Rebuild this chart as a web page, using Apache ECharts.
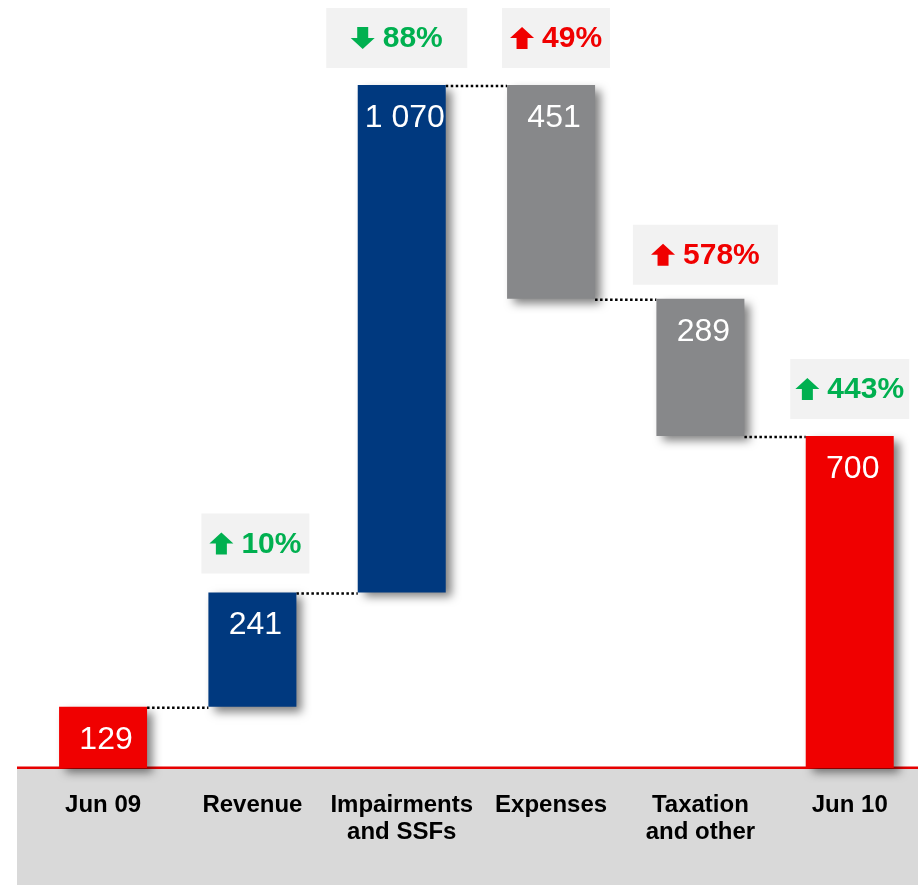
<!DOCTYPE html>
<html>
<head>
<meta charset="utf-8">
<script src="https://cdn.jsdelivr.net/npm/echarts@6/dist/echarts.min.js"></script>
<style>
  html, body { margin: 0; padding: 0; background: #ffffff; }
  #chart { width: 918px; height: 885px; }
</style>
</head>
<body>
<div id="chart"></div>
<script>
// Profit bridge, Jun 09 to Jun 10
const categories = ['Jun 09', 'Revenue', 'Impairments\nand SSFs', 'Expenses', 'Taxation\nand other', 'Jun 10'];
const amounts = [129, 241, 1070, 451, 289, 700];
const kinds = ['total', 'increase', 'increase', 'decrease', 'decrease', 'total'];
const changeLabels = ['', '10%', '88%', '49%', '578%', '443%'];
const changeArrows = ['', 'up', 'down', 'up', 'up', 'up'];
const changeTones = ['', 'good', 'good', 'bad', 'bad', 'good'];

// Presentation settings
const FONT = '"Liberation Sans", Arial, Helvetica, sans-serif';
const KIND_COLORS = { total: '#f00000', increase: '#00397f', decrease: '#87888a' };
const TONE_COLORS = { good: '#00b050', bad: '#f00000' };
const BAR_WIDTH = 88;
const BADGE_WIDTHS = [0, 108, 141, 108, 145, 119];
const BADGE_NUDGE_X = [0, 3, -5, 5, 5, 0];
const BADGE_NUDGE_Y = [0, -2, 0, 0, 3, 0];
const BADGE_HEIGHT = 60;
const BADGE_GAP = 17;

// Running totals: floating base and top of each bar
const bases = [];
const tops = [];
const levels = [];
let running = 0;
amounts.forEach((v, i) => {
  if (kinds[i] === 'total') { bases.push(0); tops.push(v); running = v; }
  else if (kinds[i] === 'increase') { bases.push(running); running += v; tops.push(running); }
  else { tops.push(running); running -= v; bases.push(running); }
  levels.push(running);
});

const fmt = v => String(v).replace(/\B(?=(\d{3})+(?!\d))/g, ' ');

const measureCtx = document.createElement('canvas').getContext('2d');
function textWidth(text, font) { measureCtx.font = font; return measureCtx.measureText(text).width; }

function arrowPoints(cx, cy, dir) {
  const w = 24, h = 22, shaft = 11, head = 11;
  const s = dir === 'down' ? -1 : 1;
  const top = cy - s * h / 2, mid = cy - s * (h / 2 - head), bot = cy + s * h / 2;
  return [
    [cx, top], [cx + w / 2, mid], [cx + shaft / 2, mid], [cx + shaft / 2, bot],
    [cx - shaft / 2, bot], [cx - shaft / 2, mid], [cx - w / 2, mid]
  ];
}

const chart = echarts.init(document.getElementById('chart'), null, { renderer: 'canvas' });

const option = {
  backgroundColor: '#ffffff',
  animation: false,
  graphic: [
    { type: 'rect', z: 0, shape: { x: 17, y: 768, width: 901, height: 117 }, style: { fill: '#d9d9d9' } },
    { type: 'rect', z: 0, shape: { x: 17, y: 766.5, width: 901, height: 2.5 }, style: { fill: '#e60000' } }
  ],
  grid: { left: 28.4, width: 896, top: 0, bottom: 117, containLabel: false, outerBoundsMode: 'none' },
  xAxis: {
    type: 'category',
    data: categories,
    axisLine: { show: false },
    axisTick: { show: false },
    axisLabel: {
      interval: 0,
      margin: 24,
      color: '#000000',
      fontFamily: FONT,
      fontWeight: 'bold',
      fontSize: 24,
      lineHeight: 27
    }
  },
  yAxis: { type: 'value', min: 0, max: 1619, show: false, splitLine: { show: false } },
  series: [
    {
      name: 'base',
      type: 'bar',
      stack: 'bridge',
      barWidth: BAR_WIDTH,
      silent: true,
      itemStyle: { color: 'rgba(0,0,0,0)' },
      data: bases
    },
    {
      name: 'amount',
      type: 'bar',
      stack: 'bridge',
      barWidth: BAR_WIDTH,
      z: 3,
      data: amounts.map((v, i) => ({
        value: v,
        itemStyle: {
          color: KIND_COLORS[kinds[i]],
          shadowColor: 'rgba(0,0,0,0.5)',
          shadowBlur: 9,
          shadowOffsetX: 6,
          shadowOffsetY: 5
        }
      })),
      label: {
        show: true,
        position: 'insideTop',
        distance: 17,
        offset: [3, 0],
        color: '#ffffff',
        fontFamily: FONT,
        fontSize: 32,
        formatter: p => fmt(p.value)
      }
    },
    {
      name: 'connectors',
      type: 'custom',
      z: 2,
      silent: true,
      data: levels.slice(0, -1).map((lv, i) => [i, lv]),
      renderItem: (params, api) => {
        const p = api.coord([api.value(0), api.value(1)]);
        const band = api.size([1, 0])[0];
        return {
          type: 'line',
          shape: { x1: p[0] + BAR_WIDTH / 2, y1: p[1] + 1, x2: p[0] + band - BAR_WIDTH / 2, y2: p[1] + 1 },
          style: { stroke: '#000000', lineWidth: 2.5, lineDash: [2.5, 2.5] }
        };
      }
    },
    {
      name: 'changes',
      type: 'custom',
      z: 4,
      silent: true,
      data: tops.map((t, i) => [i, t]).filter((d, i) => changeLabels[i] !== ''),
      renderItem: (params, api) => {
        const i = api.value(0);
        const p = api.coord([i, api.value(1)]);
        const cx = p[0] + BADGE_NUDGE_X[i];
        const bw = BADGE_WIDTHS[i];
        const bottom = p[1] - BADGE_GAP + BADGE_NUDGE_Y[i];
        const cy = bottom - BADGE_HEIGHT / 2;
        const font = 'bold 30px ' + FONT;
        const tw = textWidth(changeLabels[i], font);
        const content = 24 + 8 + tw;
        const left = cx - content / 2;
        const color = TONE_COLORS[changeTones[i]];
        return {
          type: 'group',
          children: [
            {
              type: 'rect',
              shape: { x: cx - bw / 2, y: bottom - BADGE_HEIGHT, width: bw, height: BADGE_HEIGHT },
              style: { fill: '#f2f2f2' }
            },
            {
              type: 'polygon',
              shape: { points: arrowPoints(left + 12, cy, changeArrows[i]) },
              style: { fill: color }
            },
            {
              type: 'text',
              x: left + 32,
              y: cy + 1,
              style: {
                text: changeLabels[i],
                font: font,
                fill: color,
                align: 'left',
                verticalAlign: 'middle'
              }
            }
          ]
        };
      }
    }
  ]
};

chart.setOption(option);
</script>
</body>
</html>
